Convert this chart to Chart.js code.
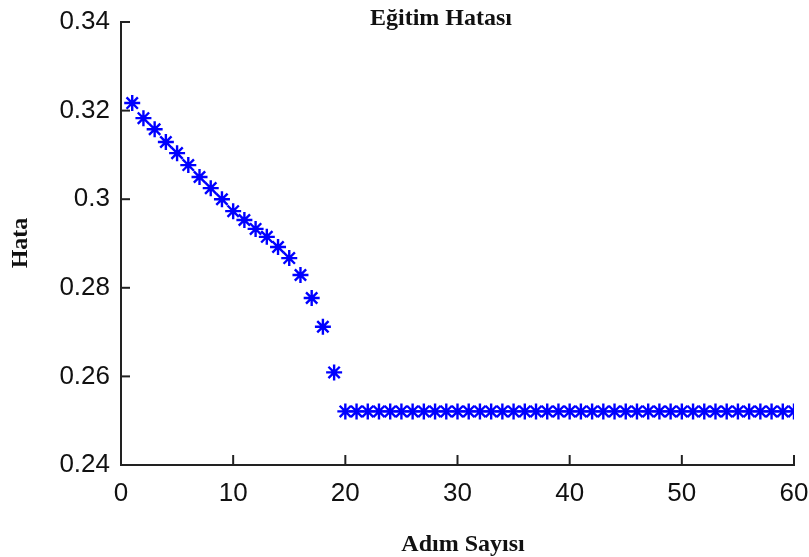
<!DOCTYPE html>
<html>
<head>
<meta charset="utf-8">
<script src="https://cdn.jsdelivr.net/npm/chart.js@4"></script>
<style>
  html, body { margin: 0; padding: 0; background: #fff; }
  #wrap { width: 809px; height: 557px; }
</style>
</head>
<body>
<div id="wrap"><canvas id="errChart" width="809" height="557"></canvas></div>
<script>
// ----------------------------------------------------------------------
// Daten
// ----------------------------------------------------------------------
const steps = [
  1, 2, 3, 4, 5, 6, 7, 8, 9, 10,
  11, 12, 13, 14, 15, 16, 17, 18, 19, 20,
  21, 22, 23, 24, 25, 26, 27, 28, 29, 30,
  31, 32, 33, 34, 35, 36, 37, 38, 39, 40,
  41, 42, 43, 44, 45, 46, 47, 48, 49, 50,
  51, 52, 53, 54, 55, 56, 57, 58, 59, 60
];
const errors = [
  0.3217, 0.3183, 0.3158, 0.3129, 0.3104, 0.3077, 0.3050, 0.3025, 0.3000, 0.2973,
  0.2953, 0.2933, 0.2915, 0.2892, 0.2867, 0.2829, 0.2777, 0.2712, 0.2609, 0.2521,
  0.2521, 0.2521, 0.2521, 0.2521, 0.2521, 0.2521, 0.2521, 0.2521, 0.2521, 0.2521,
  0.2521, 0.2521, 0.2521, 0.2521, 0.2521, 0.2521, 0.2521, 0.2521, 0.2521, 0.2521,
  0.2521, 0.2521, 0.2521, 0.2521, 0.2521, 0.2521, 0.2521, 0.2521, 0.2521, 0.2521,
  0.2521, 0.2521, 0.2521, 0.2521, 0.2521, 0.2521, 0.2521, 0.2521, 0.2521, 0.2521
];
const xTicks = [0, 10, 20, 30, 40, 50, 60];
const yTicks = [0.24, 0.26, 0.28, 0.30, 0.32, 0.34];

const chartTitle = 'Eğitim Hatası';
const xTitle = 'Adım Sayısı';
const yTitle = 'Hata';

const tickFont = "'Liberation Sans Narrow', 'Arial Narrow', 'Liberation Sans', sans-serif";
const titleFont = "'Liberation Serif', 'Times New Roman', serif";

// ----------------------------------------------------------------------
// Plugin: Innenliegende Ticks + Beschriftungen
// ----------------------------------------------------------------------
const decorPlugin = {
  id: 'decor',
  afterDraw(chart) {
    const ctx = chart.ctx;
    const xs = chart.scales.x;
    const ys = chart.scales.y;
    const area = chart.chartArea;

    ctx.save();
    ctx.strokeStyle = '#222';
    ctx.lineWidth = 2;
    xTicks.forEach(v => {
      const px = xs.getPixelForValue(v);
      ctx.beginPath();
      ctx.moveTo(px, area.bottom);
      ctx.lineTo(px, area.bottom - 10);
      ctx.stroke();
    });
    yTicks.forEach(v => {
      const py = ys.getPixelForValue(v);
      ctx.beginPath();
      ctx.moveTo(area.left, py);
      ctx.lineTo(area.left + 9, py);
      ctx.stroke();
    });

    ctx.fillStyle = '#111';
    ctx.textAlign = 'center';
    ctx.textBaseline = 'middle';
    ctx.font = "bold 24px " + titleFont;
    ctx.fillText(chartTitle, 441, 19);
    ctx.fillText(xTitle, 463, 545);

    ctx.translate(21, 243);
    ctx.rotate(-Math.PI / 2);
    ctx.fillText(yTitle, 0, 0);
    ctx.restore();
  }
};

// ----------------------------------------------------------------------
// Diagramm
// ----------------------------------------------------------------------
const ctx = document.getElementById('errChart').getContext('2d');
new Chart(ctx, {
  type: 'scatter',
  data: {
    datasets: [{
      label: chartTitle,
      data: steps.map((s, i) => ({ x: s, y: errors[i] })),
      showLine: false,
      pointStyle: 'star',
      pointRadius: 8,
      pointHoverRadius: 8,
      pointBorderWidth: 2.4,
      borderColor: '#0000ff',
      backgroundColor: '#0000ff'
    }]
  },
  options: {
    responsive: false,
    animation: false,
    events: [],
    layout: { padding: { left: 0, right: 15, top: 22, bottom: 0 } },
    plugins: {
      legend: { display: false },
      tooltip: { enabled: false },
      title: { display: false }
    },
    scales: {
      x: {
        type: 'linear',
        min: 0,
        max: 60,
        afterFit: scale => {
          scale.height = 92;
          scale.paddingLeft = 0;
          scale.paddingRight = 0;
        },
        afterBuildTicks: scale => { scale.ticks = xTicks.map(v => ({ value: v })); },
        grid: { display: false, drawTicks: false },
        border: { display: true, color: '#222', width: 2 },
        ticks: {
          padding: 13,
          color: '#111',
          font: { family: tickFont, size: 26 },
          maxRotation: 0
        }
      },
      y: {
        type: 'linear',
        min: 0.24,
        max: 0.34,
        afterFit: scale => {
          scale.width = 121;
          scale.paddingTop = 0;
          scale.paddingBottom = 0;
        },
        afterBuildTicks: scale => { scale.ticks = yTicks.map(v => ({ value: v })); },
        grid: { display: false, drawTicks: false },
        border: { display: true, color: '#222', width: 2 },
        ticks: {
          padding: 11,
          color: '#111',
          font: { family: tickFont, size: 26 },
          callback: v => String(Number(v.toFixed(2)))
        }
      }
    }
  },
  plugins: [decorPlugin]
});
</script>
</body>
</html>
